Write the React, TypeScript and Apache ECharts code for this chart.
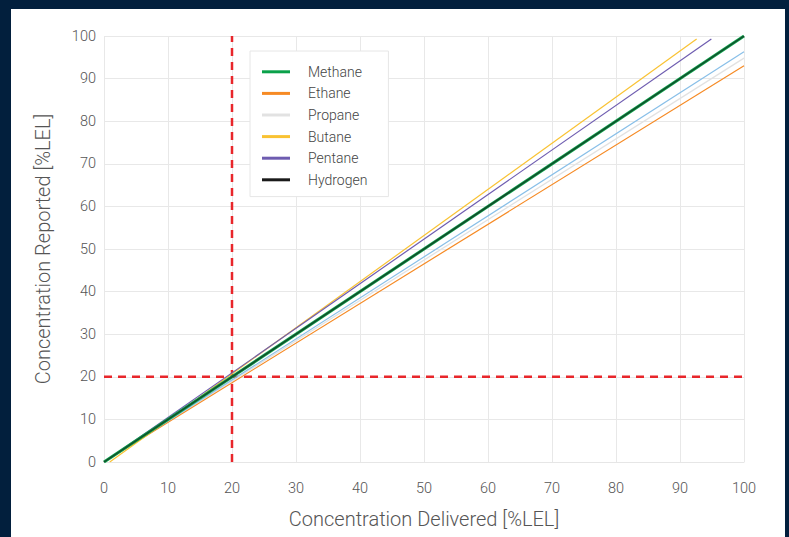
import React, { useEffect, useRef } from "react";
import * as echarts from "echarts";

const legendNames = ["Methane", "Ethane", "Propane", "Butane", "Pentane", "Hydrogen"];
const methane = [[0, 0], [100, 100]];
const ethane = [[0, 0], [100, 93]];
const propane = [[0, 0], [100, 94.8]];
const butane = [[0.9, 0], [92.6, 99.3]];
const pentane = [[0, 0], [94.9, 99.3]];
const hydrogen = [[0, 0], [100, 100]];
const blueRef = [[0, 0], [100, 96.3]];
const thresholdX = [[20, 0], [20, 100]];
const thresholdY = [[0, 20], [100, 20]];

export default function App() {
  const ref = useRef<HTMLDivElement>(null);
  useEffect(() => {
    document.body.style.margin = "0";
    const chart = echarts.init(ref.current!, null, { renderer: "svg" });
    const font = "Roboto";
    const line = (name: string, data: number[][], color: string, width: number, extra: any = {}) => ({
      name,
      type: "line",
      data,
      showSymbol: false,
      symbol: "none",
      lineStyle: { color, width, ...(extra.lineStyle || {}) },
      itemStyle: { color },
      z: extra.z ?? 2,
      silent: true,
    });
    chart.setOption({
      animation: false,
      textStyle: { fontFamily: font },
      grid: { left: 104, width: 640, top: 36, height: 426, containLabel: false },
      legend: {
        data: legendNames,
        orient: "vertical",
        left: 250,
        top: 51,
        padding: [10, 21, 6, 12],
        backgroundColor: "#ffffff",
        borderColor: "#e6e6e6",
        borderWidth: 1,
        borderRadius: 0,
        icon: "rect",
        itemWidth: 28,
        itemHeight: 3,
        itemGap: 0,
        textStyle: { fontFamily: font, fontSize: 14, fontWeight: 300, color: "#444", lineHeight: 21.6, padding: [0, 0, 0, 13] },
      },
      xAxis: {
        type: "value",
        min: 0,
        max: 100,
        interval: 10,
        name: "Concentration Delivered [%LEL]",
        nameLocation: "middle",
        nameGap: 47,
        nameTextStyle: { fontFamily: font, fontSize: 20, fontWeight: 300, color: "#555" },
        axisLine: { show: true, lineStyle: { color: "#e6e6e6" } },
        axisTick: { show: false },
        axisLabel: { fontFamily: font, fontSize: 14.5, fontWeight: 300, color: "#555", margin: 19 },
        splitLine: { show: true, lineStyle: { color: "#e8e8e8" } },
      },
      yAxis: {
        type: "value",
        min: 0,
        max: 100,
        interval: 10,
        name: "Concentration Reported [%LEL]",
        nameLocation: "middle",
        nameGap: 51,
        nameTextStyle: { fontFamily: font, fontSize: 20, fontWeight: 300, color: "#555" },
        axisLine: { show: false },
        axisTick: { show: false },
        axisLabel: { fontFamily: font, fontSize: 14.5, fontWeight: 300, color: "#555", margin: 8 },
        splitLine: { show: true, lineStyle: { color: "#e8e8e8" } },
      },
      series: [
        line("Threshold X", thresholdX, "#e8262b", 2.5, { lineStyle: { type: [8, 6] }, z: 1 }),
        line("Threshold Y", thresholdY, "#e8262b", 2.5, { lineStyle: { type: [8, 6] }, z: 1 }),
        line("Propane", propane, "#e2e2e2", 1.3),
        line("Ethane", ethane, "#f68a24", 1.2),
        line("Reference", blueRef, "#88bfe8", 1.2),
        line("Butane", butane, "#f9c232", 1.2),
        line("Pentane", pentane, "#6e5cb0", 1.2),
        line("Methane", methane, "#0aa14a", 3, { z: 3 }),
        line("Hydrogen", hydrogen, "#1a1a1a", 1.5, { lineStyle: { opacity: 0.65 }, z: 4 }),
      ],
    });
    return () => chart.dispose();
  }, []);
  return (
    <div style={{ position: "relative", width: 789, height: 537, background: "#021f3d", overflow: "hidden" }}>
      <div style={{ position: "absolute", left: 11, top: 9, width: 774, height: 528, background: "#ffffff" }} />
      <div ref={ref} style={{ position: "absolute", left: 0, top: 0, width: 789, height: 537 }} />
    </div>
  );
}
